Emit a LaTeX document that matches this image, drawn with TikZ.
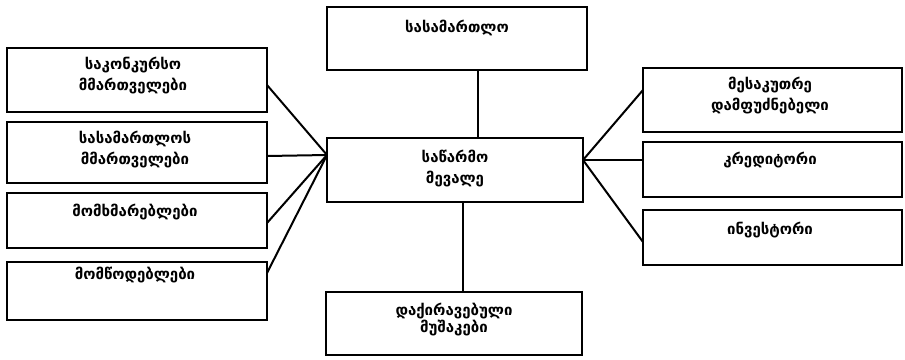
\documentclass[tikz,border=0pt]{standalone}
\usepackage{fontspec}
\newfontfamily\geo[Script=Georgian]{DejaVu Sans}
\begin{document}
\begin{tikzpicture}[x=1pt,y=-1pt,
  box/.style={draw, line width=2pt, inner sep=0pt, outer sep=0pt, anchor=north west},
  txt/.style={font=\geo\bfseries\fontsize{15}{21}\selectfont, align=center, inner sep=0pt},
  conn/.style={line width=2pt}]
\useasboundingbox (0,0) rectangle (905,359);
% boxes
\node[box, minimum width=260pt, minimum height=63pt] (S) at (327,7) {};
\node[box, minimum width=256pt, minimum height=64pt] (C) at (327,138) {};
\node[box, minimum width=256pt, minimum height=63pt] (B) at (326,292) {};
\node[box, minimum width=260pt, minimum height=64pt] (L1) at (7,48) {};
\node[box, minimum width=260pt, minimum height=61pt] (L2) at (7,122) {};
\node[box, minimum width=260pt, minimum height=55pt] (L3) at (7,193) {};
\node[box, minimum width=260pt, minimum height=58pt] (L4) at (7,262) {};
\node[box, minimum width=259pt, minimum height=64pt] (R1) at (643,68) {};
\node[box, minimum width=259pt, minimum height=55pt] (R2) at (643,142) {};
\node[box, minimum width=259pt, minimum height=55pt] (R3) at (643,210) {};
% texts
\node[txt] (tS) at (457,28) {სასამართლო};
\node[txt] (tC) at (455,169) {საწარმო\\მევალე};
\node[txt, font=\geo\bfseries\fontsize{15}{17}\selectfont] (tB) at (454,320) {დაქირავებული\\მუშაკები};
\node[txt] (tL1) at (133,76) {საკონკურსო\\მმართველები};
\node[txt] (tL2) at (135,150) {სასამართლოს\\მმართველები};
\node[txt] (tL3) at (135,212) {მომხმარებლები};
\node[txt] (tL4) at (135,275) {მომწოდებლები};
\node[txt] (tR1) at (770,96) {მესაკუთრე\\დამფუძნებელი};
\node[txt] (tR2) at (770,160) {კრედიტორი};
\node[txt] (tR3) at (770,230) {ინვესტორი};
% connectors
\coordinate (cl) at ([yshift=15pt]C.west);
\coordinate (cr) at ([yshift=10pt]C.east);
\draw[conn] ([yshift=-5pt]L1.east) -- (cl);
\draw[conn] ([yshift=-3.5pt]L2.east) -- (cl);
\draw[conn] ([yshift=-2.5pt]L3.east) -- (cl);
\draw[conn] ([yshift=18pt]L4.east) -- (cl);
\draw[conn] ([yshift=10pt]R1.west) -- (cr);
\draw[conn] ([yshift=9.5pt]R2.west) -- (cr);
\draw[conn] ([yshift=-4.5pt]R3.west) -- (cr);
\draw[conn] ([xshift=21pt]S.south) -- ([xshift=21pt]S.south |- C.north);
\draw[conn] ([xshift=9pt]B.north) -- ([xshift=9pt]B.north |- C.south);
\end{tikzpicture}
\end{document}
